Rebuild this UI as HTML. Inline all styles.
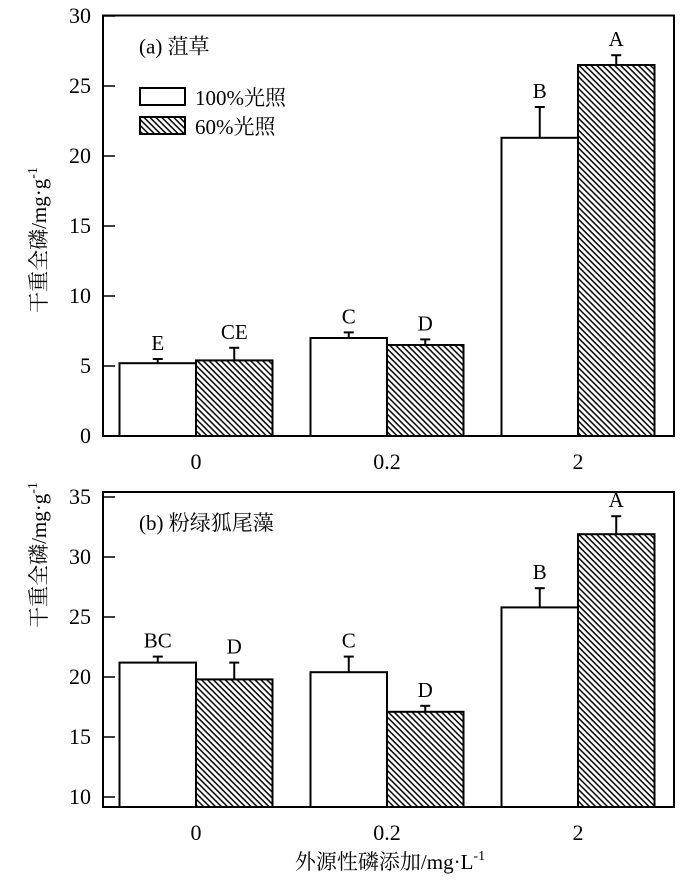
<!DOCTYPE html>
<html><head><meta charset="utf-8">
<style>
html,body{margin:0;padding:0;background:#fff;}
svg text{font-family:"Liberation Serif","Noto Serif CJK SC","Noto Sans CJK SC",serif;fill:#000;}
</style></head>
<body>
<svg id="chart" width="700" height="883" viewBox="0 0 700 883" xmlns="http://www.w3.org/2000/svg">
<defs>
<pattern id="hatch" patternUnits="userSpaceOnUse" width="4.2" height="4.2" patternTransform="rotate(-45)">
<rect width="4.2" height="4.2" fill="#fff"/>
<line x1="2" y1="0" x2="2" y2="4.2" stroke="#000" stroke-width="1.5"/>
</pattern>
</defs>
<g id="root"></g>
</svg>
<script>
const categories = ["0", "0.2", "2"];
const series = ["100%光照", "60%光照"];
const topFull = [5.2, 7.0, 21.3];
const topShade = [5.4, 6.5, 26.5];
const topFullErr = [0.3, 0.4, 2.2];
const topShadeErr = [0.9, 0.4, 0.7];
const topFullLbl = ["E", "C", "B"];
const topShadeLbl = ["CE", "D", "A"];
const topTicks = [0, 5, 10, 15, 20, 25, 30];
const botFull = [21.2, 20.4, 25.8];
const botShade = [19.8, 17.1, 31.9];
const botFullErr = [0.5, 1.3, 1.6];
const botShadeErr = [1.4, 0.5, 1.5];
const botFullLbl = ["BC", "C", "B"];
const botShadeLbl = ["D", "D", "A"];
const botTicks = [10, 15, 20, 25, 30, 35];

const NS = "http://www.w3.org/2000/svg";
const root = document.getElementById("root");
function mk(tag, attrs, parent) {
  const e = document.createElementNS(NS, tag);
  for (const k in attrs) e.setAttribute(k, attrs[k]);
  (parent || root).appendChild(e);
  return e;
}
const L = 103, R = 674;
const xCenter = i => 196 + i * 191;
const barW = 76.5;

function panel(p) {
  const g = mk("g", {});
  
  
  const y = v => p.y0 + (v - p.v0) * (p.y1 - p.y0) / (p.v1 - p.v0);
  for (let i = 0; i < categories.length; i++) {
    const cx = xCenter(i);
    [[p.full, p.fullErr, p.fullLbl, cx - barW, "#fff", "full"], [p.shade, p.shadeErr, p.shadeLbl, cx, "url(#hatch)", "shade"]].forEach(s => {
      const v = s[0][i], e = s[1][i], bx = s[3];
      const top = y(v), bot = p.yb;
      const r = mk("rect", {x: bx, y: top, width: barW, height: bot - top, fill: s[4], stroke: "#000", "stroke-width": 2}, g);
      
      
      const mx = bx + barW / 2, ey = y(v + e);
      const el = mk("line", {x1: mx, y1: top, x2: mx, y2: ey, stroke: "#000", "stroke-width": 2}, g);
      
      
      mk("line", {x1: mx - 5, y1: ey, x2: mx + 5, y2: ey, stroke: "#000", "stroke-width": 2}, g);
      const t = mk("text", {x: mx, y: ey - 9, "text-anchor": "middle", "font-size": 21}, g);
      t.textContent = s[2][i];
      
      
    });
    const xl = mk("text", {x: cx, y: p.yb + 33, "text-anchor": "middle", "font-size": 22}, g);
    xl.textContent = categories[i];
    
    
  }
  const fr = mk("rect", {x: L, y: p.yt, width: R - L, height: p.yb - p.yt, fill: "none", stroke: "#000", "stroke-width": 2}, g);
  
  
  p.ticks.forEach(t => {
    const ty = y(t);
    mk("line", {x1: L, y1: ty, x2: L + 12, y2: ty, stroke: "#000", "stroke-width": 1.5}, g);
    const tl = mk("text", {x: 91, y: ty + 7, "text-anchor": "end", "font-size": 22}, g);
    tl.textContent = t;
    
    
  });
  const yt = mk("text", {transform: `translate(46,${p.ytitle}) rotate(-90)`, "text-anchor": "middle", "font-size": 21}, g);
  yt.innerHTML = '干重全磷/mg·g<tspan dy="-9" font-size="14">-1</tspan>';
  
  
  const pt = mk("text", {x: 139, y: p.yt + 38, "font-size": 21}, g);
  pt.textContent = p.title;
  
  
}

panel({name: "panel-a", y0: 436, y1: 16, v0: 0, v1: 30, yt: 15.5, yb: 436, ticks: topTicks,
  full: topFull, shade: topShade, fullErr: topFullErr, shadeErr: topShadeErr, fullLbl: topFullLbl, shadeLbl: topShadeLbl,
  ytitle: 240, title: "(a) 菹草"});
panel({name: "panel-b", y0: 797, y1: 497, v0: 10, v1: 35, yt: 492, yb: 807, ticks: botTicks,
  full: botFull, shade: botShade, fullErr: botFullErr, shadeErr: botShadeErr, fullLbl: botFullLbl, shadeLbl: botShadeLbl,
  ytitle: 555, title: "(b) 粉绿狐尾藻"});

const lg = mk("g", {});


[["#fff", 88], ["url(#hatch)", 117]].forEach((s, i) => {
  const r = mk("rect", {x: 140, y: s[1], width: 45, height: 17, fill: s[0], stroke: "#000", "stroke-width": 2}, lg);
  
  
  const t = mk("text", {x: 195, y: s[1] + 17, "font-size": 21}, lg);
  t.textContent = series[i];
  
  
});
const xt = mk("text", {x: 390, y: 869, "text-anchor": "middle", "font-size": 21});
xt.innerHTML = '外源性磷添加/mg·L<tspan dy="-9" font-size="14">-1</tspan>';


</script>
</body></html>
